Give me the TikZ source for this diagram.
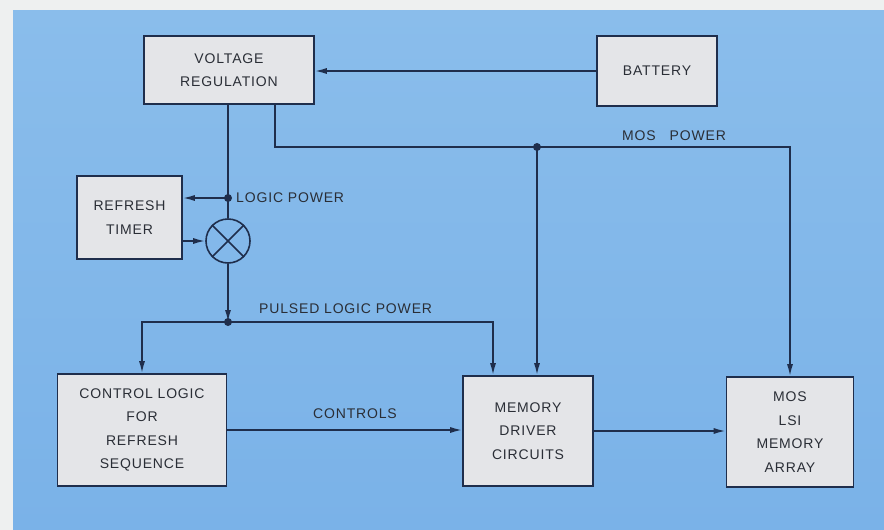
\documentclass[tikz,border=0pt]{standalone}
\usepackage{fontspec}
\setmainfont{Liberation Sans}[LetterSpace=6]
\usetikzlibrary{arrows.meta}
\definecolor{bgblue}{HTML}{7AB2E8}
\definecolor{bgtop}{HTML}{8ABDEB}
\definecolor{paperc}{HTML}{EEF0F0}
\definecolor{boxc}{HTML}{E4E5E8}
\definecolor{linec}{HTML}{1F2E4C}
\definecolor{txtc}{HTML}{2A2E36}
\newcommand\diaglbl{\fontsize{14}{23.5}\selectfont}
\tikzset{
  blk/.style={draw=linec, fill=boxc, line width=1.6pt, inner sep=0pt, align=center,
              text=txtc, font=\diaglbl},
  wire/.style={draw=linec, line width=1.6pt},
  arr/.style={-{Latex[length=12pt,width=6pt]}},
  lab/.style={text=txtc, font=\diaglbl, inner sep=0pt},
  jdot/.style={fill=linec}
}
\begin{document}
\begin{tikzpicture}[x=1pt,y=-1pt]
\fill[paperc] (0,0) rectangle (884,530);
\shade[top color=bgtop, bottom color=bgblue] (13,10) rectangle (884,530);
\useasboundingbox (0,0) rectangle (884,530);

\node[blk, minimum width=170pt, minimum height=68pt] (volt) at (229,70) {VOLTAGE\\REGULATION};
\node[blk, minimum width=120pt, minimum height=70pt] (batt) at (657,71) {BATTERY};
\node[blk, minimum width=105pt, minimum height=83pt] (timer) at (129.5,217.5) {REFRESH\\TIMER};
\node[draw=linec, line width=1.6pt, circle, minimum size=44pt, inner sep=0pt] (mix) at (228,241) {};
\node[blk, minimum width=169pt, minimum height=112pt] (ctrl) at (142,430) {CONTROL LOGIC\\FOR\\REFRESH\\SEQUENCE};
\node[blk, minimum width=130pt, minimum height=110pt] (mem) at (528,431) {MEMORY\\DRIVER\\CIRCUITS};
\node[blk, minimum width=127pt, minimum height=110pt] (mos) at (790,432) {MOS\\LSI\\MEMORY\\ARRAY};

\draw[wire] (mix.45) -- (mix.225);
\draw[wire] (mix.135) -- (mix.315);

\coordinate (lp) at (228,198);
\coordinate (pl) at (228,322);
\coordinate (mp) at (537,147);

% battery to regulator
\draw[wire,arr] (batt.west) -- (batt.west -| volt.east);
% logic power
\draw[wire] (volt.south -| lp) -- (mix.north);
\draw[wire,arr] (lp) -- (lp -| timer.east);
\draw[wire,arr] (timer.east |- mix.west) -- (mix.west);
\draw[wire,arr] (mix.south) -- (pl);
\draw[wire,arr] (pl) -| (ctrl.north);
\draw[wire,arr] (pl) -| ([xshift=-35pt]mem.north);
% MOS power
\draw[wire,arr] ([xshift=46pt]volt.south) |- (mp) -| (mos.north);
\draw[wire,arr] (mp) -- (mp |- mem.north);
% controls
\draw[wire,arr] (ctrl.east) -- (ctrl.east -| mem.west);
\draw[wire,arr] (mem.east) -- (mem.east -| mos.west);

\fill[jdot] (lp) circle (4pt);
\fill[jdot] (pl) circle (4pt);
\fill[jdot] (mp) circle (4pt);

\node[lab, anchor=west] (lplab) at (236,198) {LOGIC POWER};
\node[lab, anchor=west] (pllab) at (259,309) {PULSED LOGIC POWER};
\node[lab] (ctlab) at (355,414) {CONTROLS};
\node[lab] (mplab) at (674,136) {MOS\hspace{1em}POWER};
\end{tikzpicture}
\end{document}
